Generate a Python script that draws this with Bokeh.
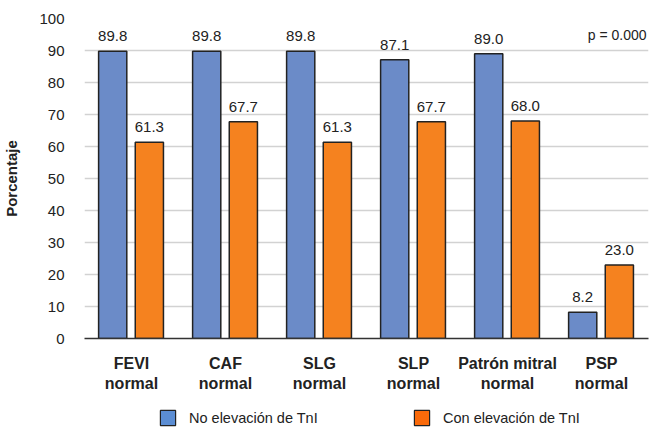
from bokeh.plotting import figure
from bokeh.layouts import column
from bokeh.models import ColumnDataSource, Legend, LegendItem, Label, FactorRange, Range1d, FixedTicker
from bokeh.transform import dodge
from bokeh.embed import file_html
from bokeh.resources import INLINE
from bokeh.core.properties import value

categories = ["FEVI\nnormal", "CAF\nnormal", "SLG\nnormal", "SLP\nnormal", "Patrón mitral\nnormal", "PSP\nnormal"]
no_elev = [89.8, 89.8, 89.8, 87.1, 89.0, 8.2]
con_elev = [61.3, 67.7, 61.3, 67.7, 68.0, 23.0]
series_names = ["No elevación de TnI", "Con elevación de TnI"]
y_ticks = [0, 10, 20, 30, 40, 50, 60, 70, 80, 90, 100]
p_text = "p = 0.000"

FONT = "Liberation Sans"
BLUE = "#6b8bc8"
ORANGE = "#f5821f"
LEG_BLUE = "#5b8dd3"
LEG_ORANGE = "#fa6a0a"

src = ColumnDataSource(dict(
    cat=categories, a=no_elev, b=con_elev,
    la=[f"{v:.1f}" for v in no_elev], lb=[f"{v:.1f}" for v in con_elev],
))

p = figure(width=651, height=404, x_range=FactorRange(*categories, range_padding=0),
           y_range=Range1d(0, 100), output_backend="svg", toolbar_location=None,
           min_border_left=81, min_border_right=3, min_border_top=18, min_border_bottom=66)
p.outline_line_color = None
p.background_fill_color = "white"

ra = p.vbar(x=dodge("cat", -0.2, range=p.x_range), top="a", width=0.30, source=src,
            fill_color=BLUE, line_color="#222222", line_width=1.5)
rb = p.vbar(x=dodge("cat", 0.19, range=p.x_range), top="b", width=0.30, source=src,
            fill_color=ORANGE, line_color="#222222", line_width=1.5)

p.text(x=dodge("cat", -0.2, range=p.x_range), y="a", text="la", source=src,
       text_align="center", text_baseline="bottom", y_offset=-10,
       text_font=value(FONT), text_font_size="15px", text_color="#222222")
p.text(x=dodge("cat", 0.19, range=p.x_range), y="b", text="lb", source=src,
       text_align="center", text_baseline="bottom", y_offset=-10,
       text_font=value(FONT), text_font_size="15px", text_color="#222222")

p.add_layout(Label(x=6, y=95, x_offset=-2, text=p_text,
                   text_align="right", text_baseline="middle", text_font=FONT,
                   text_font_size="14px", text_color="#222222"))

p.xgrid.grid_line_color = None
p.ygrid.grid_line_color = "#d2d2d2"
p.ygrid.grid_line_width = 1.5
p.yaxis.ticker = FixedTicker(ticks=y_ticks)

p.yaxis.axis_line_color = None
p.yaxis.major_tick_line_color = None
p.yaxis.minor_tick_line_color = None
p.yaxis.major_label_standoff = 14
p.yaxis.major_label_text_font = FONT
p.yaxis.major_label_text_font_size = "15px"
p.yaxis.major_label_text_color = "#222222"
p.yaxis.axis_label = "Porcentaje"
p.yaxis.axis_label_text_font = FONT
p.yaxis.axis_label_text_font_style = "bold"
p.yaxis.axis_label_text_font_size = "15px"
p.yaxis.axis_label_text_color = "#222222"
p.yaxis.axis_label_standoff = 16

p.xaxis.axis_line_color = "#333333"
p.xaxis.axis_line_width = 1.5
p.xaxis.major_tick_line_color = None
p.xaxis.minor_tick_line_color = None
p.xaxis.major_tick_out = 0
p.xaxis.major_label_standoff = 16
p.xaxis.major_label_text_font = FONT
p.xaxis.major_label_text_font_style = "bold"
p.xaxis.major_label_text_font_size = "16px"
p.xaxis.major_label_text_color = "#222222"
p.xaxis.major_label_orientation = "horizontal"

# legend strip
p2 = figure(width=651, height=24, x_range=Range1d(0, 1), y_range=Range1d(0, 1),
            output_backend="svg", toolbar_location=None,
            x_axis_location=None, y_axis_location=None,
            min_border_left=0, min_border_right=0, min_border_top=0, min_border_bottom=0)
p2.outline_line_color = None
p2.xgrid.grid_line_color = None
p2.ygrid.grid_line_color = None

ga = p2.vbar(x=[0.5], top=[0.5], width=0.1, fill_color=LEG_BLUE, line_color="#222222",
             line_width=1.2, visible=False)
gb = p2.vbar(x=[0.5], top=[0.5], width=0.1, fill_color=LEG_ORANGE, line_color="#222222",
             line_width=1.2, visible=False)

for r, name, xloc in [(ga, series_names[0], 74), (gb, series_names[1], 328)]:
    lg = Legend(items=[LegendItem(label=name, renderers=[r])], location=(xloc, 1),
                orientation="horizontal", padding=0, margin=0, border_line_color=None,
                background_fill_alpha=0, glyph_width=19, glyph_height=19, label_standoff=12,
                label_text_font=FONT, label_text_font_size="14.5px", label_text_color="#222222",
                label_height=19)
    p2.add_layout(lg, "center")

open("out.html", "w").write(file_html(column(p, p2, spacing=0), INLINE))
